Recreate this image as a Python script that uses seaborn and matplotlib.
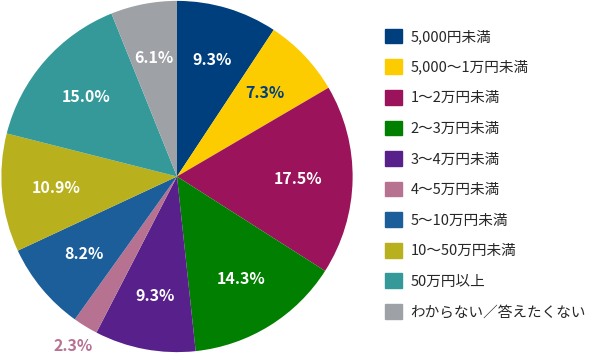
import matplotlib
matplotlib.use('Agg')
import matplotlib.pyplot as plt
import matplotlib.patches as mpatches
import seaborn as sns
import numpy as np

# =============================================================================
# データ
# =============================================================================
categories = ['5,000円未満', '5,000～1万円未満', '1～2万円未満', '2～3万円未満',
              '3～4万円未満', '4～5万円未満', '5～10万円未満', '10～50万円未満',
              '50万円以上', 'わからない／答えたくない']
values = [9.3, 7.3, 17.5, 14.3, 9.3, 2.3, 8.2, 10.9, 15.0, 6.1]
colors = ['#003f7d', '#fccc00', '#9b135a', '#007f00', '#57208a',
          '#b77292', '#1b5e9a', '#b8b01c', '#35999a', '#9ea1a6']

sns.set_theme(style='white')
plt.rcParams['font.family'] = ['Noto Sans CJK JP', 'DejaVu Sans']
palette = sns.color_palette(colors)

fig = plt.figure(figsize=(5.9, 3.53), dpi=100)
ax = fig.add_axes([0, 0, 354 / 590, 1])

wedges, _ = ax.pie(values, colors=palette, startangle=90, counterclock=False,
                   radius=1.0, wedgeprops={'linewidth': 0})
ax.set_xlim(-1.005, 1.005)
ax.set_ylim(-1.005, 1.005)
ax.set_aspect('equal')

# ラベル
for i, w in enumerate(wedges):
    ang = np.deg2rad((w.theta1 + w.theta2) / 2)
    txt = '%.1f%%' % values[i]
    if values[i] < 3:
        r, col = 1.13, colors[i]
    else:
        r = 0.69
        col = '#003f7d' if i == 1 else 'white'
    ax.text(r * np.cos(ang), r * np.sin(ang), txt, ha='center', va='center',
            fontsize=11.5, fontweight='bold', color=col)

handles = [mpatches.Patch(color=c, label=l) for c, l in zip(colors, categories)]
leg = fig.legend(handles=handles, loc='upper left', bbox_to_anchor=(379 / 590, 1 - 23 / 353),
                 frameon=False, fontsize=10.5, handlelength=1.17, handleheight=1.17,
                 labelspacing=1.05, handletextpad=0.6, borderaxespad=0)

fig.savefig('out.png', dpi=100)
